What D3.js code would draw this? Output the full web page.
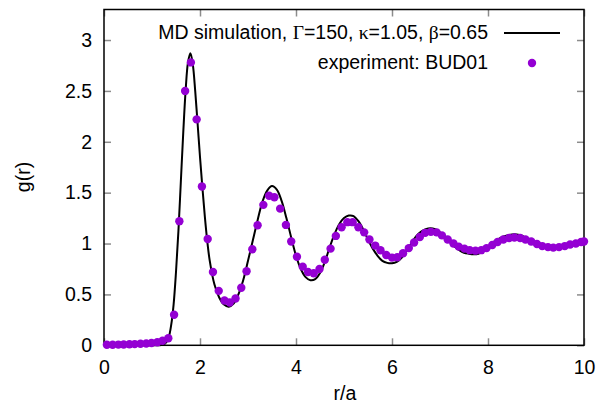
<!DOCTYPE html>
<html>
<head>
<meta charset="utf-8">
<script src="https://cdn.jsdelivr.net/npm/d3@7"></script>
<style>
  html, body { margin: 0; padding: 0; background: #fff; }
  svg { display: block; font-family: "Liberation Sans", Arial, Helvetica, sans-serif; }
</style>
</head>
<body>
<svg id="chart" width="606" height="404"></svg>
<script>
// ---- data ----
const xTicks = [0, 2, 4, 6, 8, 10];
const yTicks = [0, 0.5, 1, 1.5, 2, 2.5, 3];
const xLabel = "r/a";
const yLabel = "g(r)";
// legend label split into [text, isGreek] parts
const lineLabelParts = [["MD simulation, ", false], ["\u0393", true], ["=150, ", false], ["\u03BA", true],
  ["=1.05, ", false], ["\u03B2", true], ["=0.65", false]];
const pointLabel = "experiment: BUD01";

// MD simulation curve
const mdR = [0, 0.5, 1.0, 1.2, 1.25, 1.3, 1.35, 1.4, 1.45, 1.5, 1.55, 1.6, 1.65, 1.7, 1.75, 1.8, 1.85, 1.9, 1.95,
  2.0, 2.05, 2.1, 2.15, 2.2, 2.3, 2.4, 2.5, 2.6, 2.7, 2.8, 2.9, 3.0, 3.1, 3.2, 3.3, 3.4, 3.5, 3.6, 3.7, 3.8, 3.9,
  4.0, 4.1, 4.2, 4.3, 4.4, 4.5, 4.6, 4.7, 4.8, 4.9, 5.0, 5.1, 5.2, 5.3, 5.4, 5.5, 5.6, 5.7, 5.8, 5.9,
  6.0, 6.1, 6.2, 6.3, 6.4, 6.5, 6.6, 6.7, 6.8, 6.9, 7.0, 7.1, 7.2, 7.3, 7.4, 7.5, 7.6, 7.7, 7.8, 7.9,
  8.0, 8.1, 8.2, 8.3, 8.4, 8.5, 8.6, 8.7, 8.8, 8.9, 9.0, 9.1, 9.2, 9.3, 9.4, 9.5, 9.6, 9.7, 9.8, 9.9, 10.0];
const mdG = [0, 0, 0, 0.003, 0.01, 0.03, 0.08, 0.2, 0.4, 0.72, 1.12, 1.6, 2.08, 2.5, 2.78, 2.87, 2.76, 2.5, 2.18,
  1.85, 1.55, 1.27, 1.03, 0.84, 0.6, 0.47, 0.4, 0.38, 0.41, 0.5, 0.64, 0.83, 1.03, 1.23, 1.41, 1.52, 1.565, 1.53, 1.42, 1.25, 1.06,
  0.88, 0.75, 0.67, 0.64, 0.65, 0.71, 0.82, 0.96, 1.09, 1.19, 1.25, 1.275, 1.27, 1.22, 1.14, 1.04, 0.95, 0.88, 0.83, 0.81,
  0.806, 0.82, 0.86, 0.93, 1.0, 1.07, 1.115, 1.14, 1.15, 1.14, 1.11, 1.07, 1.02, 0.97, 0.935, 0.91, 0.9, 0.895, 0.9, 0.93,
  0.97, 1.01, 1.04, 1.065, 1.08, 1.09, 1.09, 1.08, 1.05, 1.02, 0.99, 0.97, 0.96, 0.955, 0.96, 0.97, 0.985, 1.0, 1.01, 1.02, 1.03];

// experiment BUD01
const expR = [0.06, 0.18, 0.30, 0.41, 0.53, 0.64, 0.76, 0.88, 0.99, 1.11, 1.22, 1.34, 1.46, 1.57, 1.69, 1.81, 1.93,
  2.04, 2.16, 2.27, 2.39, 2.51, 2.62, 2.74, 2.86, 2.97, 3.09, 3.20, 3.32, 3.44, 3.55, 3.67, 3.79, 3.90,
  4.02, 4.14, 4.25, 4.37, 4.49, 4.60, 4.72, 4.83, 4.95, 5.07, 5.18, 5.30, 5.42, 5.53, 5.65, 5.76, 5.88,
  6.00, 6.11, 6.23, 6.35, 6.46, 6.58, 6.69, 6.81, 6.93, 7.04, 7.16, 7.28, 7.39, 7.51, 7.62, 7.74, 7.86, 7.97,
  8.09, 8.20, 8.32, 8.44, 8.55, 8.67, 8.78, 8.90, 9.02, 9.13, 9.25, 9.36, 9.48, 9.60, 9.71, 9.83, 9.94, 10.0];
const expG = [0.005, 0.005, 0.007, 0.008, 0.01, 0.012, 0.015, 0.018, 0.022, 0.03, 0.045, 0.07, 0.30, 1.22, 2.50, 2.78, 2.22,
  1.56, 1.045, 0.72, 0.535, 0.44, 0.42, 0.46, 0.566, 0.727, 0.944, 1.18, 1.38, 1.47, 1.455, 1.343, 1.183, 1.02,
  0.87, 0.773, 0.72, 0.708, 0.75, 0.84, 0.95, 1.075, 1.16, 1.21, 1.21, 1.16, 1.11, 1.04, 0.98, 0.934, 0.888,
  0.862, 0.865, 0.905, 0.955, 1.01, 1.065, 1.105, 1.115, 1.11, 1.08, 1.04, 1.0, 0.97, 0.95, 0.935, 0.93, 0.935, 0.955,
  0.985, 1.015, 1.04, 1.055, 1.06, 1.055, 1.04, 1.02, 0.995, 0.975, 0.965, 0.96, 0.965, 0.975, 0.99, 1.0, 1.015, 1.02];

// ---- layout ----
const pLeft = 104, pRight = 584, pTop = 9.5, pBottom = 345.3;
const svg = d3.select("#chart");
const x = d3.scaleLinear().domain([0, 10]).range([pLeft, pRight]);
const y = d3.scaleLinear().domain([0, 3.3]).range([pBottom, pTop]);
const violet = "#9400D3";
const fontSize = 19.5;

// ticks (inward, mirrored) via axes
const tickLen = 7;
const axB = svg.append("g").attr("transform", `translate(0,${pBottom})`)
  .call(d3.axisBottom(x).tickValues(xTicks).tickSize(-tickLen).tickPadding(15).tickFormat(d3.format("~g")));
const axT = svg.append("g").attr("transform", `translate(0,${pTop})`)
  .call(d3.axisTop(x).tickValues(xTicks).tickSize(-tickLen).tickFormat(""));
const axL = svg.append("g").attr("transform", `translate(${pLeft},0)`)
  .call(d3.axisLeft(y).tickValues(yTicks).tickSize(-tickLen).tickPadding(12).tickFormat(d3.format("~g")));
const axR = svg.append("g").attr("transform", `translate(${pRight},0)`)
  .call(d3.axisRight(y).tickValues(yTicks).tickSize(-tickLen).tickFormat(""));
[axB, axT, axL, axR].forEach(a => {
  a.select(".domain").remove();
  a.selectAll(".tick line").attr("stroke", "#8c8c8c").attr("stroke-width", 1.5);
  a.selectAll(".tick text").attr("fill", "#000").attr("font-size", fontSize)
    .attr("font-family", "Liberation Sans, Arial, sans-serif");
});

// border
svg.append("rect").attr("x", pLeft).attr("y", pTop)
  .attr("width", pRight - pLeft).attr("height", pBottom - pTop)
  .attr("fill", "none").attr("stroke", "#000").attr("stroke-width", 1.5);

// MD line
const mdData = mdR.map((r, i) => [r, mdG[i]]);
svg.append("path").datum(mdData)
  .attr("fill", "none").attr("stroke", "#000").attr("stroke-width", 2)
  .attr("d", d3.line().x(d => x(d[0])).y(d => y(d[1])).curve(d3.curveCatmullRom.alpha(0.5)));

// experiment points
const expData = expR.map((r, i) => [r, expG[i]]);
svg.append("g").selectAll("circle").data(expData).join("circle")
  .attr("cx", d => x(d[0])).attr("cy", d => y(d[1])).attr("r", 4.2)
  .attr("fill", violet);

// legend
const legendX = 488;
const t1 = svg.append("text").attr("x", legendX).attr("y", 39).attr("text-anchor", "end")
  .attr("font-size", fontSize);
t1.selectAll("tspan").data(lineLabelParts).join("tspan")
  .attr("font-family", d => d[1] ? "Liberation Serif, Times New Roman, serif" : null)
  .text(d => d[0]);
svg.append("line").attr("x1", 504).attr("x2", 560).attr("y1", 33).attr("y2", 33)
  .attr("stroke", "#000").attr("stroke-width", 2);
svg.append("text").attr("x", legendX).attr("y", 69).attr("text-anchor", "end")
  .attr("font-size", fontSize).text(pointLabel);
svg.append("circle").attr("cx", 532).attr("cy", 63).attr("r", 4.2).attr("fill", violet);

// axis labels
svg.append("text").attr("x", 345).attr("y", 400).attr("text-anchor", "middle")
  .attr("font-size", fontSize).text(xLabel);
svg.append("text").attr("transform", "translate(30,177) rotate(-90)")
  .attr("text-anchor", "middle").attr("font-size", fontSize).text(yLabel);
</script>
</body>
</html>
